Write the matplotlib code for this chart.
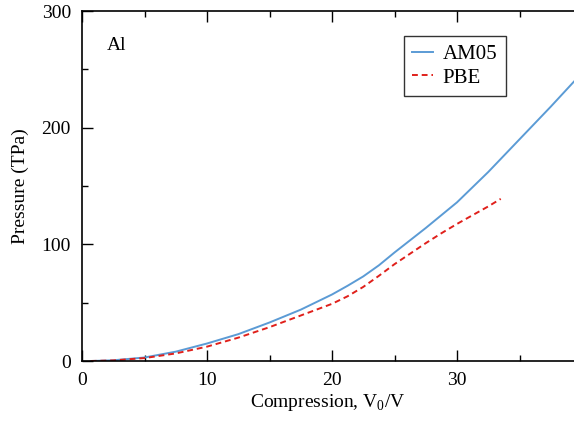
import matplotlib
matplotlib.use('Agg')
import matplotlib.pyplot as plt
from matplotlib.ticker import MultipleLocator

plt.rcParams['font.family'] = ['Liberation Serif', 'DejaVu Serif']
plt.rcParams['mathtext.fontset'] = 'custom'
plt.rcParams['mathtext.rm'] = 'Liberation Serif'

# AM05 curve
am05_x = [0.7, 2.5, 5, 7.5, 10, 12.5, 15, 17.5, 20, 21.25, 22.5, 23.75, 25,
          26.25, 27.5, 28.75, 30, 31.25, 32.5, 35, 37.5, 39.4]
am05_p = [0, 0.6, 3, 8, 15, 23, 33, 44, 57, 64.5, 72.5, 82, 93,
          103.5, 114, 125, 136, 149, 162, 190, 218, 240]

# PBE curve
pbe_x = [0.7, 2.5, 5, 7.5, 10, 12.5, 15, 17.5, 20, 21.25, 22.5, 23.75, 25,
         26.25, 27.5, 28.75, 30, 31.25, 32.5, 33.5]
pbe_p = [0, 0.5, 2.5, 6.5, 12.3, 20, 29, 39, 49, 55.5, 63.5, 73, 83,
         92, 101, 109.5, 117.5, 125, 132.5, 139]

fig = plt.figure(figsize=(5.74, 4.22), dpi=100)
ax = fig.add_axes([82/574, 61/422, 492/574, 350/422])

ax.plot(am05_x, am05_p, color='#5b9bd5', lw=1.4, label='AM05')
ax.plot(pbe_x, pbe_p, color='#e0201b', lw=1.4, ls=(0, (3, 2)), label='PBE')

ax.set_xlim(0, 39.36)
ax.set_ylim(0, 300)
ax.xaxis.set_major_locator(MultipleLocator(10))
ax.xaxis.set_minor_locator(MultipleLocator(5))
ax.yaxis.set_major_locator(MultipleLocator(100))
ax.yaxis.set_minor_locator(MultipleLocator(50))
ax.tick_params(which='both', direction='in', top=True, right=False,
               labelsize=14, pad=8, width=1)
ax.tick_params(which='major', length=8)
ax.tick_params(which='minor', length=4)
ax.spines['right'].set_visible(False)
for s in ['left', 'bottom', 'top']:
    ax.spines[s].set_linewidth(1.2)

ax.set_xlabel('Compression, V$_0$/V', fontsize=14, labelpad=2)
ax.set_ylabel('Pressure (TPa)', fontsize=14, labelpad=9)
ax.text(0.05, 0.9, 'Al', transform=ax.transAxes, fontsize=14, va='center')

leg = ax.legend(loc='upper left', bbox_to_anchor=((404-82)/492, (361-36)/350),
                borderaxespad=0, fontsize=15, frameon=True, fancybox=False,
                edgecolor='black', handlelength=1.0, handletextpad=0.45,
                borderpad=0.4, labelspacing=0.2)
leg.get_frame().set_linewidth(1.0)

fig.savefig('out.png', dpi=100)
